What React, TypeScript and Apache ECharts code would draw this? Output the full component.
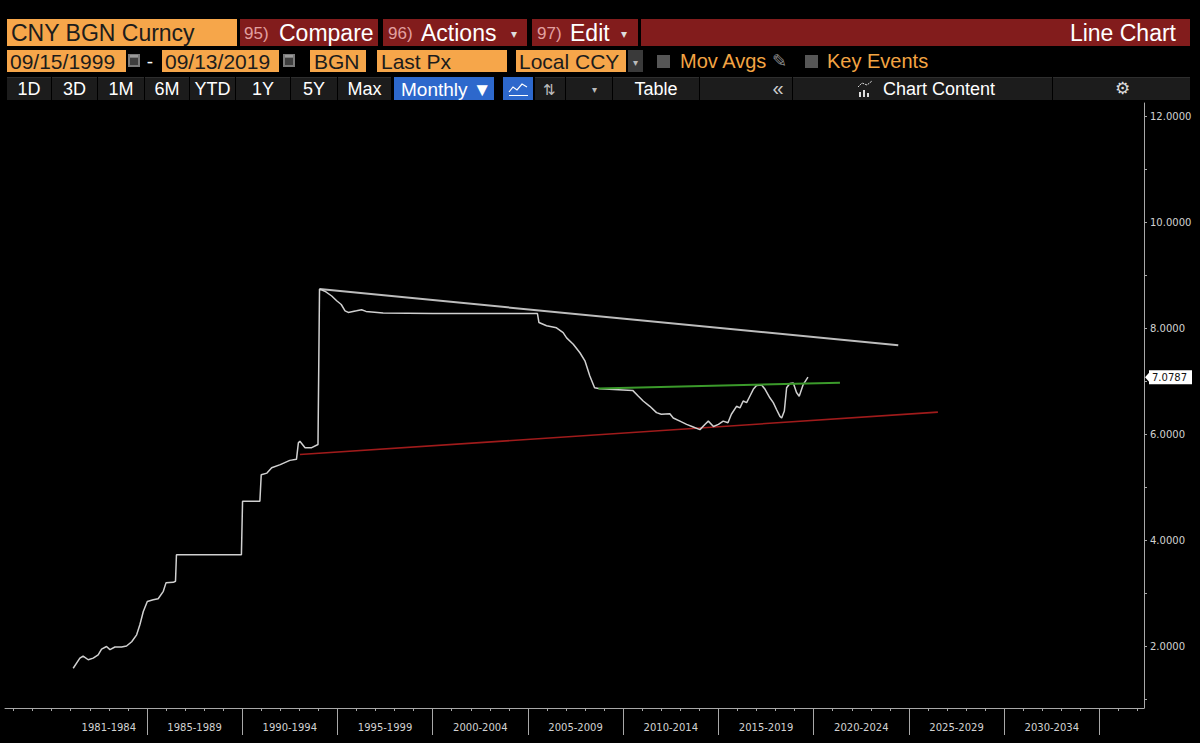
import React, { useEffect, useRef } from "react";
import * as echarts from "echarts";

// ---- Data (decimal year, CNY per USD) ----
const cnyHistory: [number, number][] = [
  [1981.13, 1.59], [1981.48, 1.78], [1981.65, 1.82], [1981.92, 1.75], [1982.18, 1.78],
  [1982.44, 1.84], [1982.62, 1.95], [1982.88, 2.0], [1983.06, 1.94], [1983.32, 1.99],
  [1983.67, 1.99], [1983.93, 2.01], [1984.2, 2.09], [1984.46, 2.22], [1984.63, 2.41],
  [1984.81, 2.66], [1985.02, 2.85], [1985.33, 2.88], [1985.59, 2.9], [1985.86, 3.04],
  [1986.0, 3.2], [1986.38, 3.21], [1986.5, 3.23], [1986.55, 3.73], [1989.96, 3.73],
  [1990.02, 4.74], [1990.93, 4.74], [1991.0, 5.24], [1991.3, 5.27], [1991.55, 5.37],
  [1992.0, 5.43], [1992.5, 5.51], [1992.85, 5.53], [1992.95, 5.84], [1993.03, 5.87],
  [1993.3, 5.75], [1993.65, 5.75], [1993.98, 5.81], [1994.06, 8.74], [1994.34, 8.7],
  [1994.7, 8.61], [1994.96, 8.52], [1995.2, 8.45], [1995.4, 8.33], [1995.57, 8.3],
  [1996.0, 8.33], [1996.27, 8.35], [1996.5, 8.32], [1997.4, 8.29], [2000.0, 8.28],
  [2003.0, 8.28], [2005.5, 8.28], [2005.58, 8.11], [2005.98, 8.05], [2006.5, 8.01],
  [2006.85, 7.92], [2007.03, 7.82], [2007.38, 7.7], [2007.73, 7.54], [2008.0, 7.38],
  [2008.25, 7.1], [2008.5, 6.88], [2008.78, 6.86], [2010.5, 6.83], [2010.8, 6.72],
  [2011.05, 6.63], [2011.4, 6.53], [2011.75, 6.41], [2012.0, 6.38], [2012.45, 6.39],
  [2012.63, 6.31], [2012.98, 6.25], [2013.33, 6.19], [2013.68, 6.14], [2014.03, 6.09],
  [2014.3, 6.19], [2014.47, 6.25], [2014.74, 6.15], [2015.0, 6.19], [2015.25, 6.25],
  [2015.5, 6.22], [2015.68, 6.38], [2015.95, 6.53], [2016.13, 6.5], [2016.3, 6.63],
  [2016.48, 6.6], [2016.65, 6.72], [2016.83, 6.85], [2017.0, 6.92], [2017.27, 6.93],
  [2017.45, 6.85], [2017.7, 6.69], [2017.88, 6.6], [2018.05, 6.47], [2018.23, 6.34],
  [2018.32, 6.31], [2018.46, 6.44], [2018.58, 6.88], [2018.75, 6.96], [2018.93, 6.97],
  [2019.1, 6.79], [2019.24, 6.72], [2019.45, 6.94], [2019.7, 7.0787],
];
const resistanceLine: [number, number][] = [[1994.06, 8.74], [2024.44, 7.68]];
const rangeTopLine: [number, number][] = [[2008.7, 6.865], [2021.38, 6.975]];
const supportLine: [number, number][] = [[1993.03, 5.62], [2026.52, 6.42]];
const lastPrice = 7.0787;

const periodLabels = [
  "1981-1984", "1985-1989", "1990-1994", "1995-1999", "2000-2004", "2005-2009",
  "2010-2014", "2015-2019", "2020-2024", "2025-2029", "2030-2034",
];
const periodCenters = [1983, 1987.5, 1992.5, 1997.5, 2002.5, 2007.5, 2012.5, 2017.5, 2022.5, 2027.5, 2032.5];
const periodBounds = [1985, 1990, 1995, 2000, 2005, 2010, 2015, 2020, 2025, 2030, 2035];
const yearTicks = [
  1978, 1979, 1980, 1981, 1982, 1983, 1984, 1985, 1986, 1987, 1988, 1989, 1990, 1991, 1992,
  1993, 1994, 1995, 1996, 1997, 1998, 1999, 2000, 2001, 2002, 2003, 2004, 2005, 2006, 2007,
  2008, 2009, 2010, 2011, 2012, 2013, 2014, 2015, 2016, 2017, 2018, 2019, 2020, 2021, 2022,
  2023, 2024, 2025, 2026, 2027, 2028, 2029, 2030, 2031, 2032, 2033, 2034, 2035, 2036, 2037,
];
const yTickValues = [1, 2, 3, 4, 5, 6, 7, 8, 9, 10, 11, 12];
const yLabelValues = [2, 4, 6, 8, 10, 12];

// ---- Header (terminal chrome) ----
const F = "'Liberation Sans', Arial, sans-serif";
const ORANGE = "#f6a64a";
const RED = "#821c1c";
const ORANGE_TXT = "#f3a443";

function box(x: number, y: number, w: number, h: number, fill: string) {
  return { type: "rect", silent: true, shape: { x, y, width: w, height: h }, style: { fill } };
}
function txt(x: number, y: number, text: string, size: number, fill: string, align = "left", family = F) {
  return {
    type: "text",
    silent: true,
    x,
    y,
    style: {
      text,
      fontSize: size,
      fontFamily: family,
      fill,
      align,
      verticalAlign: "middle",
      textAlign: align,
      textVerticalAlign: "middle",
    },
  };
}
function calendar(x: number, y: number) {
  return [box(x, y, 12, 13, "#7a7a7a"), box(x + 2, y + 4, 8, 7, "#3e3e3e"), box(x + 2, y + 1, 8, 2, "#9a9a9a")];
}

function headerGraphics(): any[] {
  const g: any[] = [];
  // Row 1
  g.push(box(7, 19, 230, 27, ORANGE), txt(11, 33, "CNY BGN Curncy", 23, "#1c1c1c"));
  g.push(box(240, 19, 138, 27, RED), txt(244, 33, "95)", 17, "#e2a0a0"), txt(279, 33, "Compare", 23, "#ffffff"));
  g.push(box(383, 19, 144, 27, RED), txt(388, 33, "96)", 17, "#e2a0a0"), txt(421, 33, "Actions", 23, "#ffffff"), txt(514, 34, "▾", 12, "#dddddd", "center"));
  g.push(box(532, 19, 106, 27, RED), txt(537, 33, "97)", 17, "#e2a0a0"), txt(570, 33, "Edit", 23, "#ffffff"), txt(624, 34, "▾", 12, "#dddddd", "center"));
  g.push(box(641, 19, 549, 27, RED), txt(1176, 33, "Line Chart", 23, "#ffffff", "right"));
  // Row 2
  g.push(box(7, 50, 119, 22, ORANGE), txt(10, 61, "09/15/1999", 21, "#1c1c1c"));
  g.push(...calendar(128, 54));
  g.push(txt(150, 61, "-", 19, "#ffffff", "center"));
  g.push(box(162, 50, 117, 22, ORANGE), txt(165, 61, "09/13/2019", 21, "#1c1c1c"));
  g.push(...calendar(283, 54));
  g.push(box(310, 50, 56, 22, ORANGE), txt(314, 61, "BGN", 21, "#1c1c1c"));
  g.push(box(377, 50, 130, 22, ORANGE), txt(381, 61, "Last Px", 21, "#1c1c1c"));
  g.push(box(516, 50, 110, 22, ORANGE), txt(519, 61, "Local CCY", 21, "#1c1c1c"));
  g.push(box(628, 50, 15, 22, "#3a3a3a"), txt(635.5, 62, "▾", 10, "#bbbbbb", "center"));
  g.push(box(657, 55, 13, 13, "#565656"), txt(680, 61, "Mov Avgs", 20, ORANGE_TXT));
  g.push(txt(772, 61, "✎", 18, "#8a8a8a"));
  g.push(box(805, 55, 13, 13, "#565656"), txt(827, 61, "Key Events", 20, ORANGE_TXT));
  // Row 3
  const btns: [number, number, string][] = [
    [7, 44, "1D"], [52, 45, "3D"], [98, 46, "1M"], [145, 44, "6M"], [190, 45, "YTD"],
    [236, 54, "1Y"], [291, 46, "5Y"], [338, 53, "Max"], [535, 30, ""], [566, 46, ""],
    [613, 86, "Table"], [700, 92, ""], [793, 259, ""], [1053, 137, ""],
  ];
  btns.forEach(([x, w, label]) => {
    g.push(box(x, 77, w, 23, "#1c1c1c"), box(x, 77, w, 1, "#2e2e2e"));
    if (label) g.push(txt(x + w / 2, 89, label, 18, "#ffffff", "center"));
  });
  g.push(box(394, 77, 100, 23, "#2d68cc"), txt(401, 89, "Monthly ▼", 19, "#ffffff"));
  g.push(box(503, 77, 30, 23, "#2d68cc"));
  g.push({
    type: "polyline",
    silent: true,
    shape: { points: [[509, 92], [513, 87], [517, 90], [522, 84], [527, 87]] },
    style: { stroke: "#ffffff", lineWidth: 1.2, fill: "none" },
  });
  g.push(box(509, 95, 19, 1, "#ffffff"));
  g.push(txt(549, 89, "⇅", 15, "#bbbbbb", "center"));
  g.push(txt(594, 89, "▾", 10, "#bbbbbb", "center"));
  g.push(txt(778, 88, "«", 20, "#cccccc", "center"));
  g.push(box(859, 92, 2, 5, "#dddddd"), box(863, 90, 2, 7, "#dddddd"), box(867, 93, 2, 4, "#dddddd"));
  g.push({
    type: "polyline",
    silent: true,
    shape: { points: [[858, 87], [862, 83], [867, 85], [872, 81]] },
    style: { stroke: "#dddddd", lineWidth: 1, fill: "none", lineDash: [2, 1] },
  });
  g.push(txt(883, 89, "Chart Content", 18, "#ffffff"));
  g.push(txt(1122, 88, "⚙", 17, "#dddddd", "center"));
  return g;
}

const X_MIN = 1977.55;
const X_MAX = 2037.34;
const AXIS_GRAY = "#a8a8a8";
const LABEL_GRAY = "#d2d2d2";
const AXIS_FONT = "'DejaVu Sans', sans-serif";

export default function App() {
  const ref = useRef<HTMLDivElement>(null);
  useEffect(() => {
    if (!ref.current) return;
    const chart = echarts.init(ref.current, undefined, { renderer: "svg" });
    const option: any = {
      animation: false,
      backgroundColor: "#000000",
      grid: { left: 5, right: 56, top: 103, bottom: 35, containLabel: false },
      xAxis: [
        {
          type: "value",
          min: X_MIN,
          max: X_MAX,
          position: "bottom",
          axisLine: { show: true, lineStyle: { color: AXIS_GRAY, width: 1 } },
          axisTick: { show: true, customValues: yearTicks, length: 3, lineStyle: { color: AXIS_GRAY } },
          axisLabel: { show: false },
          splitLine: { show: false },
        },
        {
          type: "value",
          min: X_MIN,
          max: X_MAX,
          position: "bottom",
          offset: 0,
          axisLine: { show: false },
          axisTick: { show: true, customValues: periodBounds, length: 27, lineStyle: { color: AXIS_GRAY } },
          axisLabel: {
            show: true,
            customValues: periodCenters,
            formatter: (v: number) => {
              const i = periodCenters.findIndex((c) => Math.abs(c - v) < 0.01);
              return i >= 0 ? periodLabels[i] : "";
            },
            color: LABEL_GRAY,
            fontSize: 10,
            fontFamily: AXIS_FONT,
            margin: 14,
          },
          splitLine: { show: false },
        },
      ],
      yAxis: {
        type: "value",
        position: "right",
        min: 0.84,
        max: 12.25,
        axisLine: { show: true, lineStyle: { color: AXIS_GRAY, width: 1 } },
        axisTick: { show: true, customValues: yTickValues, length: 3, lineStyle: { color: AXIS_GRAY } },
        axisLabel: {
          show: true,
          customValues: yLabelValues,
          formatter: (v: number) => v.toFixed(4),
          color: LABEL_GRAY,
          fontSize: 10,
          fontFamily: AXIS_FONT,
          margin: 6,
        },
        splitLine: { show: false },
      },
      series: [
        {
          name: "CNY",
          type: "line",
          data: cnyHistory,
          showSymbol: false,
          lineStyle: { color: "#d0d0d0", width: 1.5 },
          z: 3,
        },
        {
          name: "Resistance",
          type: "line",
          data: resistanceLine,
          showSymbol: false,
          lineStyle: { color: "#bdbdbd", width: 2 },
          z: 2,
        },
        {
          name: "Range top",
          type: "line",
          data: rangeTopLine,
          showSymbol: false,
          lineStyle: { color: "#3b9a2b", width: 2 },
          z: 4,
        },
        {
          name: "Support",
          type: "line",
          data: supportLine,
          showSymbol: false,
          lineStyle: { color: "#a01b1b", width: 1.6 },
          z: 2,
        },
      ],
    };
    chart.setOption(option);
    const pt = chart.convertToPixel({ gridIndex: 0 }, [X_MAX, lastPrice]) as number[];
    const ax = pt[0];
    const yc = pt[1];
    const tag: any[] = [
      { type: "rect", silent: true, z: 10, shape: { x: ax + 5, y: yc - 7, width: 43, height: 14 }, style: { fill: "#ffffff" } },
      {
        type: "polygon",
        silent: true,
        z: 10,
        shape: { points: [[ax + 1, yc], [ax + 5.5, yc - 5], [ax + 5.5, yc + 5]] },
        style: { fill: "#ffffff" },
      },
      {
        type: "text",
        silent: true,
        x: ax + 8,
        y: yc + 0.5,
        z: 11,
        style: {
          text: lastPrice.toFixed(4),
          fontSize: 10,
          fontFamily: AXIS_FONT,
          fill: "#111111",
          align: "left",
          verticalAlign: "middle",
          textAlign: "left",
          textVerticalAlign: "middle",
        },
      },
    ];
    chart.setOption({ graphic: [...headerGraphics(), ...tag] });
    return () => chart.dispose();
  }, []);
  return (
    <div
      ref={ref}
      style={{ position: "fixed", left: 0, top: 0, width: 1200, height: 743, background: "#000" }}
    />
  );
}
